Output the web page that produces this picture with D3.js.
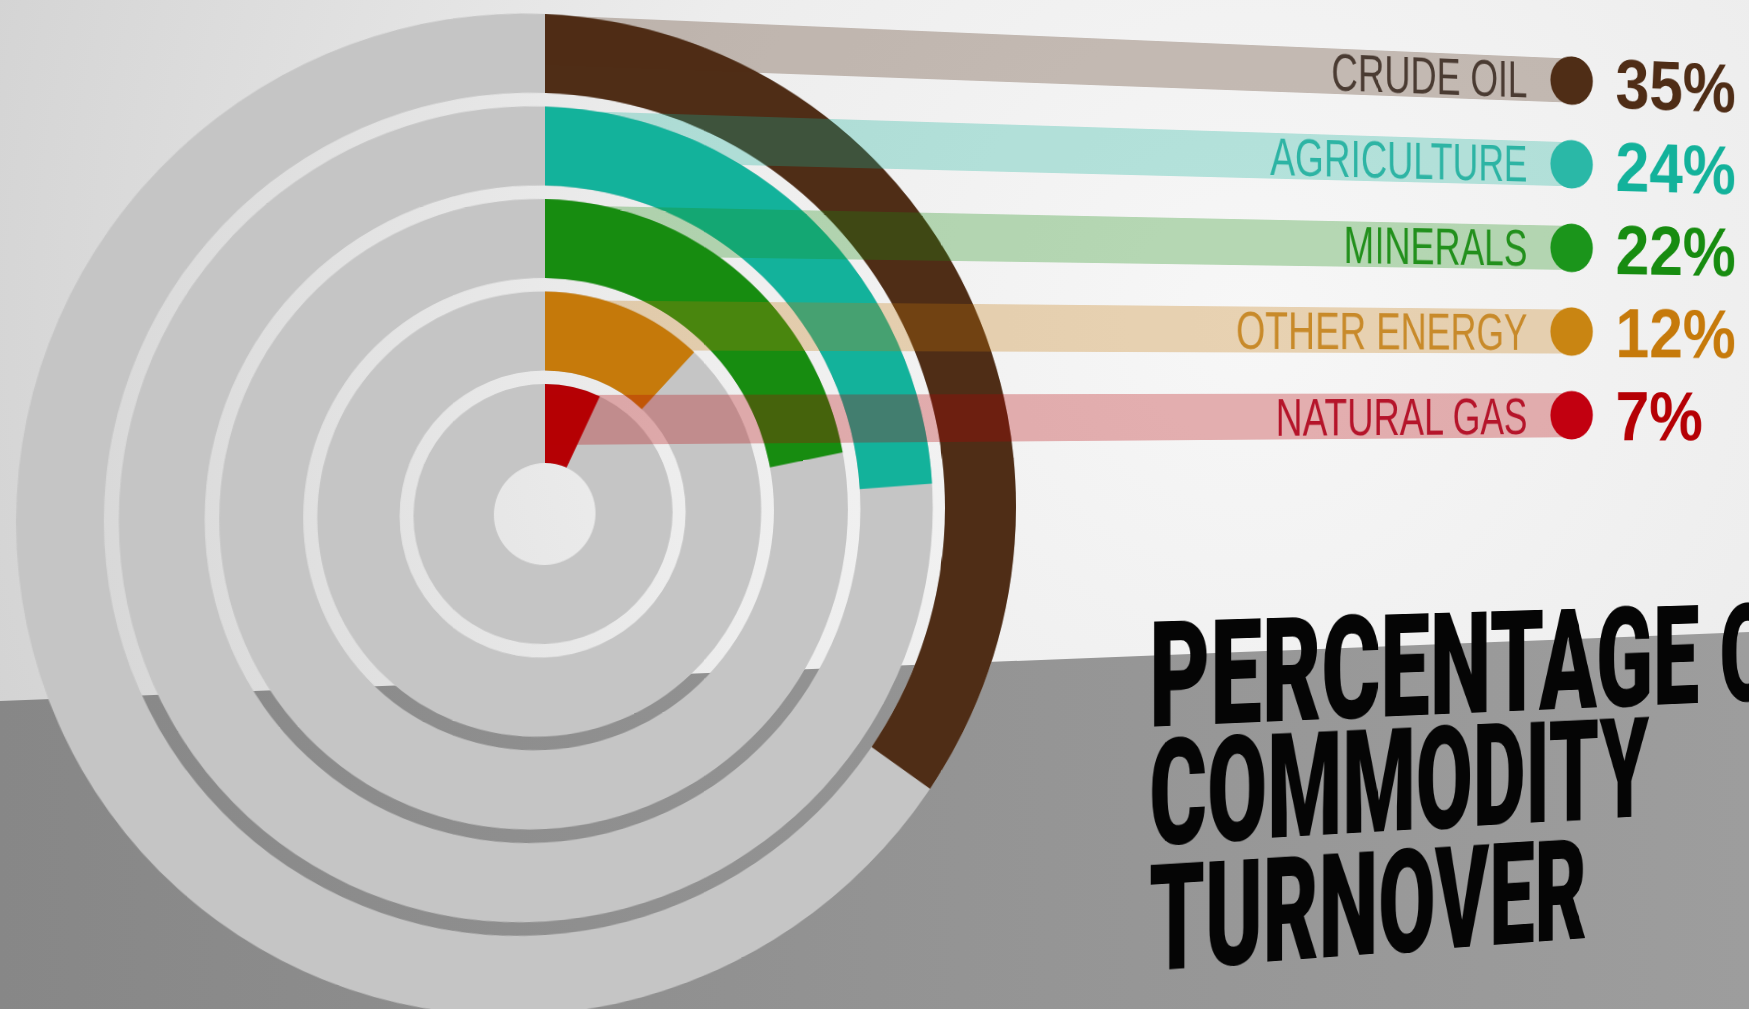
<!DOCTYPE html>
<html>
<head>
<meta charset="utf-8">
<script src="https://cdn.jsdelivr.net/npm/d3@7"></script>
<style>
  html, body { margin: 0; padding: 0; width: 1749px; height: 1009px; overflow: hidden; background: #e4e4e4; }
  svg { position: absolute; left: 0; top: 0; }
</style>
</head>
<body>
<script>
// ---------- data ----------
const categories = ["CRUDE OIL", "AGRICULTURE", "MINERALS", "OTHER ENERGY", "NATURAL GAS"];
const values = [35, 24, 22, 12, 7];
const valueLabels = ["35%", "24%", "22%", "12%", "7%"];
const arcColors = ["#4f2d16", "#13b29b", "#178c10", "#c67a0b", "#b50004"];
const labelColors = ["#4a3b32", "#2db4a4", "#22901c", "#c88a2a", "#b5142a"];
const dotColors = ["#4f2d16", "#2ab8a7", "#1b951b", "#c98512", "#c20010"];
const titleLines = ["PERCENTAGE OF", "COMMODITY", "TURNOVER"];

// ---------- layout ----------
const W = 1749, H = 1009;
const P = { cx: 545, cy: 514, k: 1.16e-4, h: 0.9966, yh: 380, OX: 600, OY: 560 };

// background: wall + floor (image space)
const bg = d3.select("body").append("svg").attr("width", W).attr("height", H);
const defs = bg.append("defs");
const wallG = defs.append("radialGradient").attr("id", "wall")
  .attr("gradientUnits", "userSpaceOnUse").attr("cx", 1250).attr("cy", 320).attr("r", 1350);
wallG.append("stop").attr("offset", 0).attr("stop-color", "#f7f7f7");
wallG.append("stop").attr("offset", 0.45).attr("stop-color", "#ededed");
wallG.append("stop").attr("offset", 1).attr("stop-color", "#d2d2d2");
const floorG = defs.append("linearGradient").attr("id", "floor")
  .attr("x1", 0).attr("y1", 0).attr("x2", 1).attr("y2", 0);
floorG.append("stop").attr("offset", 0).attr("stop-color", "#878787");
floorG.append("stop").attr("offset", 0.5).attr("stop-color", "#939393");
floorG.append("stop").attr("offset", 1).attr("stop-color", "#9d9d9d");
bg.append("rect").attr("width", W).attr("height", H).attr("fill", "url(#wall)");
const floorY0 = 701, floorY1 = 632;
bg.append("path")
  .attr("d", d3.line()([[0, floorY0], [W, floorY1], [W, H], [0, H]]) + "Z")
  .attr("fill", "url(#floor)");

// plane (design space) with a projective transform
const H11 = P.cx * P.k + P.h, H13 = P.cx * (1 - P.k * P.OX) - P.h * P.OX;
const H21 = P.yh * P.k, H23 = P.yh * (1 - P.k * P.OX) + P.cy - P.yh - P.OY;
const H31 = P.k, H33 = 1 - P.k * P.OX;
const plane = d3.select("body").append("svg")
  .attr("width", 2000).attr("height", 1300)
  .style("overflow", "visible")
  .style("transform-origin", "0 0")
  .style("transform", `matrix3d(${H11},${H21},0,${H31},0,1,0,0,0,0,1,0,${H13},${H23},0,${H33})`);
const g = plane.append("g").attr("transform", `translate(${P.OX},${P.OY})`);

// scales
const angle = d3.scaleLinear().domain([0, 100]).range([0, 2 * Math.PI]);
const ring = d3.scaleBand().domain(categories.slice().reverse()).range([51, 500]).paddingInner(0.146);
const row = d3.scalePoint().domain(categories).range([-474, -94]);
const arc = d3.arc();

const data = categories.map((c, i) => ({
  name: c, value: values[i], label: valueLabels[i],
  arcColor: arcColors[i], labelColor: labelColors[i], dotColor: dotColors[i]
}));

// gray tracks
g.selectAll("path.track").data(data).join("path").attr("class", "track")
  .attr("d", d => arc({ innerRadius: ring(d.name), outerRadius: ring(d.name) + ring.bandwidth(),
                        startAngle: 0, endAngle: 2 * Math.PI }))
  .attr("fill", "#c5c5c5");

// value arcs
g.selectAll("path.val").data(data).join("path").attr("class", "val")
  .attr("d", d => arc({ innerRadius: ring(d.name), outerRadius: ring(d.name) + ring.bandwidth(),
                        startAngle: 0, endAngle: angle(d.value) }))
  .attr("fill", d => d.arcColor);

// legend geometry (design units)
const dotX = 1170, dotR = 27.5, bandH = 50, labelRight = 1113, pctX = 1227;

// translucent leader bands
g.selectAll("rect.band").data(data).join("rect").attr("class", "band")
  .attr("x", 0).attr("width", dotX)
  .attr("y", d => row(d.name) - bandH / 2).attr("height", bandH)
  .attr("fill", d => d.arcColor).attr("fill-opacity", 0.29);

// labels (condensed)
const labFS = 58, labSqueeze = 0.774;
g.selectAll("text.lab").data(data).join("text").attr("class", "lab")
  .attr("font-family", "'Liberation Sans', Arial, sans-serif")
  .attr("font-size", labFS)
  .attr("fill", d => d.labelColor)
  .attr("text-anchor", "end")
  .attr("transform", d => `translate(${labelRight},${row(d.name) + 0.36 * labFS}) scale(${labSqueeze},1)`)
  .text(d => d.name);

// dots
g.selectAll("circle.dot").data(data).join("circle").attr("class", "dot")
  .attr("cx", dotX).attr("cy", d => row(d.name)).attr("r", dotR)
  .attr("fill", d => d.dotColor);

// percentages
const pctFS = 80;
g.selectAll("text.pct").data(data).join("text").attr("class", "pct")
  .attr("font-family", "'Liberation Sans', Arial, sans-serif")
  .attr("font-weight", "bold").attr("font-size", pctFS)
  .attr("fill", d => d.arcColor)
  .attr("x", pctX).attr("y", d => row(d.name) + 0.36 * pctFS)
  .text(d => d.label);

// title
const tFS = 159, tSqueeze = [0.69, 0.65, 0.65], titleX = 652, titleBase = [239, 366, 501];
g.selectAll("text.title").data(titleLines).join("text").attr("class", "title")
  .attr("font-family", "Roboto, 'Liberation Sans', sans-serif")
  .attr("font-weight", 900).attr("font-size", tFS).attr("fill", "#050505")
  .attr("transform", (d, i) => `translate(${titleX},${titleBase[i]}) scale(${tSqueeze[i]},1)`)
  .text(d => d);
</script>
</body>
</html>
